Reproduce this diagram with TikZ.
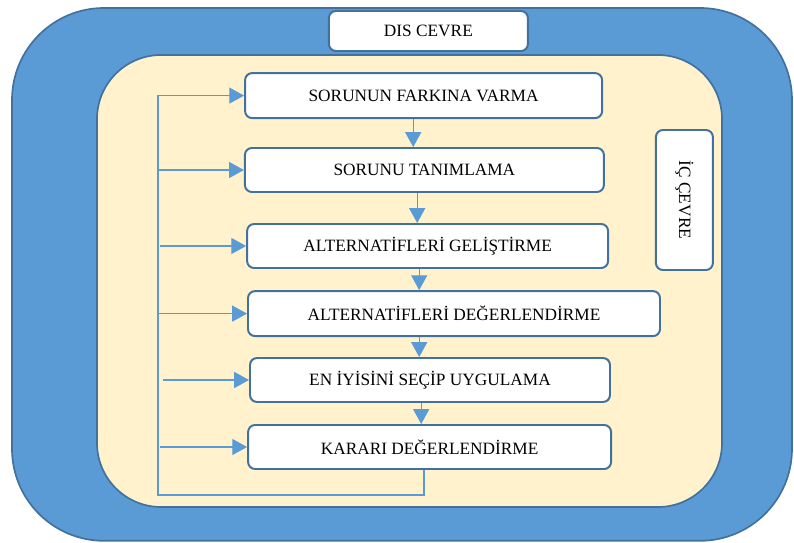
\documentclass[tikz,border=0pt]{standalone}
\usepackage{fontspec}
\setmainfont{Liberation Serif}
\usetikzlibrary{arrows.meta}
\definecolor{disblue}{HTML}{5B9BD5}
\definecolor{edgeblue}{HTML}{41719C}
\definecolor{cream}{HTML}{FFF2CC}
\tikzset{
	stepbox/.style={draw=edgeblue, line width=1.4pt, fill=white, rounded corners=5pt, font=\fontsize{12.3}{14}\selectfont},
	flow/.style={draw=disblue, line width=0.8pt, -{Triangle[length=0.37cm,width=0.4cm]}}
}

\begin{document}
\begin{tikzpicture}
	\useasboundingbox (0,0) rectangle (19.85,-13.575);
	\draw [edgeblue, line width=1.2pt, fill=disblue, rounded corners=2.3cm] (0.3,-0.2) rectangle (19.8,-13.52);
	\draw [edgeblue, line width=1.2pt, fill=cream, rounded corners=1.6cm] (2.425,-1.375) rectangle (18.05,-12.675);
	\node [stepbox, minimum width=4.975cm, minimum height=1cm] (dis) at (10.71,-0.775) {DIS CEVRE};
	\node [stepbox, minimum width=3.5cm, minimum height=1.425cm, rotate=-90] (ic) at (17.11,-5.0) {İÇ ÇEVRE};
	\node [stepbox, minimum width=8.925cm, minimum height=1.125cm] (b1) at (10.59,-2.39) {SORUNUN FARKINA VARMA};
	\node [stepbox, minimum width=8.975cm, minimum height=1.1cm] (b2) at (10.61,-4.25) {SORUNU TANIMLAMA};
	\node [stepbox, minimum width=9.025cm, minimum height=1.1cm] (b3) at (10.69,-6.15) {ALTERNATİFLERİ GELİŞTİRME};
	\node [stepbox, minimum width=10.3cm, minimum height=1.125cm] (b4) at (11.35,-7.84) {ALTERNATİFLERİ DEĞERLENDİRME};
	\node [stepbox, minimum width=9.0cm, minimum height=1.1cm] (b5) at (10.75,-9.5) {EN İYİSİNİ SEÇİP UYGULAMA};
	\node [stepbox, minimum width=9.075cm, minimum height=1.1cm] (b6) at (10.74,-11.175) {KARARI DEĞERLENDİRME};
	% steps
	\draw [flow] (b1.south -| 10.33,0) -- (b2.north -| 10.33,0);
	\draw [flow] (b2.south -| 10.43,0) -- (b3.north -| 10.43,0);
	\draw [flow] (b3.south -| 10.48,0) -- (b4.north -| 10.48,0);
	\draw [flow] (b4.south -| 10.48,0) -- (b5.north -| 10.48,0);
	\draw [flow] (b5.south -| 10.53,0) -- (b6.north -| 10.53,0);
	% feedback
	\coordinate (fb) at (3.95,-12.375);
	\draw [flow] (b6.south -| 10.6,0) |- (fb) |- (b1.west);
	\draw [flow] (b2.west -| 3.95,0) -- (b2.west);
	\draw [flow] (b3.west -| 4.0,0) -- (b3.west);
	\draw [flow] (b4.west -| 3.95,0) -- (b4.west);
	\draw [flow] (b5.west -| 4.07,0) -- (b5.west);
	\draw [flow] (b6.west -| 4.0,0) -- (b6.west);
\end{tikzpicture}
\end{document}
